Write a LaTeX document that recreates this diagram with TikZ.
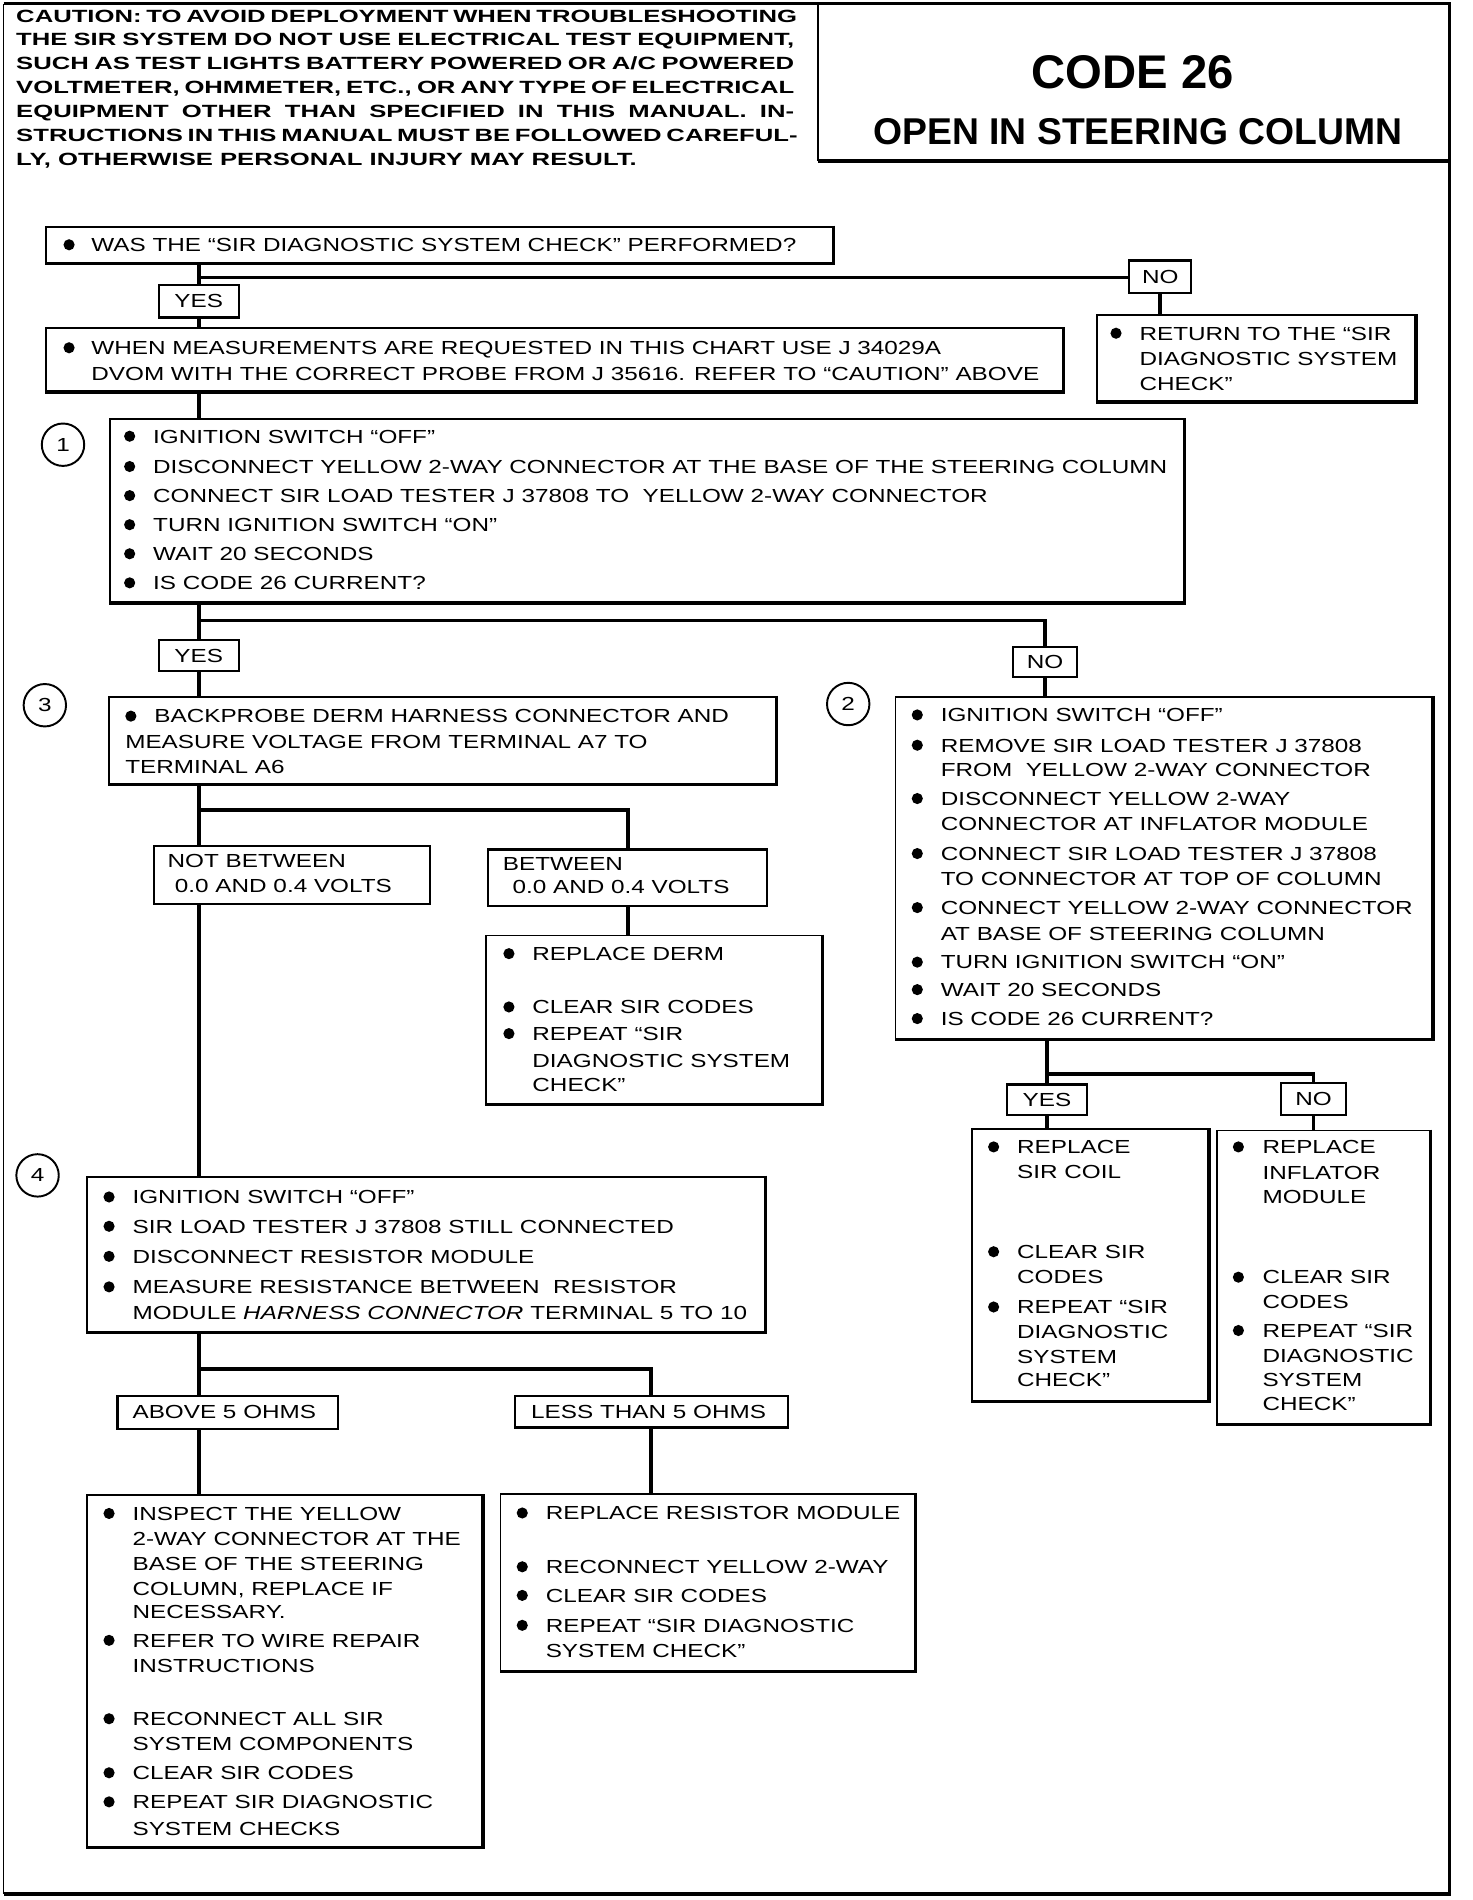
\documentclass[tikz,border=0pt]{standalone}
\usepackage{fontspec}
\usepackage{graphicx}
\usetikzlibrary{fit}
\newfontfamily\bfam[FakeStretch=1.285]{Liberation Sans}
\newfontfamily\cfam[FakeStretch=1.45]{Liberation Sans}
\newfontfamily\tfam{Liberation Sans}
\newcommand\bodyf{\bfam\fontsize{7.8pt}{9.4pt}\selectfont}
\newcommand\cautf{\cfam\bfseries\fontsize{7.3pt}{9pt}\selectfont}
\def\capoff{5.6}
\def\ccapoff{5.2}
\tikzset{
 tx/.style={anchor=base west, inner sep=0pt, font=\bodyf},
 ltx/.style={anchor=center, inner sep=0pt, font=\bodyf},
 ctx/.style={anchor=base west, inner sep=0pt, font=\cautf},
 bul/.style={circle, fill=black, inner sep=0pt, minimum size=4.6pt},
 bx/.style={draw, line width=0.75pt, inner sep=0pt, fill=white},
 lab/.style={draw, line width=0.9pt, inner sep=0pt, fill=white},
 conn/.style={line width=1.5pt},
 thk/.style={line width=1.3pt},
 num/.style={circle, draw, line width=0.8pt, minimum size=17.5pt, inner sep=0pt, font=\bodyf},
 frame/.style={line width=1.4pt},
}
% bullet line: name, bullet x, text x, centre y, text
\newcommand\bl[5]{\node[bul] (#1b) at (#2,#4) {}; \node[tx] (#1) at (#3,#4+\capoff) {#5};}
% continuation line: name, text x, centre y, text
\newcommand\cl[4]{\node[tx] (#1) at (#2,#3+\capoff) {#4};}
% box with heavier right and bottom edges
\newcommand\mkbox[3]{\node[bx, fit={#2 #3}] (#1) {}; \draw[thk] (#1.north east) -- (#1.south east) -- (#1.south west);}
% label box with centred text: name, corner, corner, text
\newcommand\mklab[4]{\node[lab, fit={#2 #3}] (#1) {}; \node[ltx] (#1t) at (#1.center) {#4};}
\begin{document}
\begin{tikzpicture}[x=0.5pt,y=-0.5pt]
\fill[white] (0,0) rectangle (1215,1568);
\useasboundingbox (0,0) rectangle (1215,1568);

% ---------- frame and header ----------
\draw[line width=0.7pt] (3,3) -- (3,1563);
\draw[frame] (3,3) -- (1196,3) -- (1196,1563) -- (3,1563);
\draw[line width=0.8pt] (675,3) -- (675,133);
\draw[frame] (675,133) -- (1196,133);

\node[ctx] (c1) at (13,13+\ccapoff) {\makebox[321pt][s]{CAUTION: TO AVOID DEPLOYMENT WHEN TROUBLESHOOTING}};
\node[ctx] (c2) at (13,32.7+\ccapoff) {\makebox[321pt][s]{THE SIR SYSTEM DO NOT USE ELECTRICAL TEST EQUIPMENT,}};
\node[ctx] (c3) at (13,52.3+\ccapoff) {\makebox[321pt][s]{SUCH AS TEST LIGHTS BATTERY POWERED OR A/C POWERED}};
\node[ctx] (c4) at (13,72+\ccapoff) {\makebox[321pt][s]{VOLTMETER, OHMMETER, ETC., OR ANY TYPE OF ELECTRICAL}};
\node[ctx] (c5) at (13,91.7+\ccapoff) {\makebox[321pt][s]{EQUIPMENT OTHER THAN SPECIFIED IN THIS MANUAL. IN-}};
\node[ctx] (c6) at (13,111.3+\ccapoff) {\makebox[321pt][s]{STRUCTIONS IN THIS MANUAL MUST BE FOLLOWED CAREFUL-}};
\node[ctx] (c7) at (13,131+\ccapoff) {LY, OTHERWISE PERSONAL INJURY MAY RESULT.};

\node[inner sep=0pt, font=\tfam\bfseries\fontsize{19.5pt}{21pt}\selectfont] (code) at (935,60) {CODE 26};
\node[inner sep=0pt, font=\tfam\bfseries\fontsize{15.4pt}{17pt}\selectfont] (title) at (939,109) {OPEN IN STEERING COLUMN};

% ---------- boxes ----------
\mkbox{A}{(38,187)}{(687,217)}
\bl{a1}{57}{75}{202}{WAS THE “SIR DIAGNOSTIC SYSTEM CHECK” PERFORMED?}

\mklab{no1}{(932,215)}{(983,242)}{NO}
\mklab{yes1}{(131,235)}{(197,262)}{YES}

\mkbox{B}{(38,271)}{(877,323)}
\bl{b1}{57}{75}{287}{WHEN MEASUREMENTS ARE REQUESTED IN THIS CHART USE J 34029A}
\cl{b2}{75}{308}{DVOM WITH THE CORRECT PROBE FROM J 35616. REFER TO “CAUTION” ABOVE}

\mkbox{R}{(905,260)}{(1168,331)}
\bl{r1}{921}{940}{275}{RETURN TO THE “SIR}
\cl{r2}{940}{296}{DIAGNOSTIC SYSTEM}
\cl{r3}{940}{317}{CHECK”}

\node[num] (n1) at (52,367) {1};
\mkbox{S1}{(91,346)}{(977,497)}
\bl{s1a}{107}{126}{360}{IGNITION SWITCH “OFF”}
\bl{s1b}{107}{126}{385}{DISCONNECT YELLOW 2-WAY CONNECTOR AT THE BASE OF THE STEERING COLUMN}
\bl{s1c}{107}{126}{409}{CONNECT SIR LOAD TESTER J 37808 TO~ YELLOW 2-WAY CONNECTOR}
\bl{s1d}{107}{126}{433}{TURN IGNITION SWITCH “ON”}
\bl{s1e}{107}{126}{457}{WAIT 20 SECONDS}
\bl{s1f}{107}{126}{481}{IS CODE 26 CURRENT?}

\mklab{yes2}{(131,528)}{(197,554)}{YES}
\mklab{no2}{(836,534)}{(889,559)}{NO}

\node[num] (n3) at (37,582) {3};
\mkbox{S3}{(90,575)}{(640,647)}
\bl{s3a}{108}{127}{591}{BACKPROBE DERM HARNESS CONNECTOR AND}
\cl{s3b}{103}{612}{MEASURE VOLTAGE FROM TERMINAL A7 TO}
\cl{s3c}{103}{633}{TERMINAL A6}

\node[num] (n2) at (700,581) {2};
\mkbox{S2}{(739,575)}{(1182,857)}
\bl{s2a}{757}{776}{590}{IGNITION SWITCH “OFF”}
\bl{s2b}{757}{776}{615}{REMOVE SIR LOAD TESTER J 37808}
\cl{s2c}{776}{635.6}{FROM~ YELLOW 2-WAY CONNECTOR}
\bl{s2d}{757}{776}{659}{DISCONNECT YELLOW 2-WAY}
\cl{s2e}{776}{680}{CONNECTOR AT INFLATOR MODULE}
\bl{s2f}{757}{776}{704.4}{CONNECT SIR LOAD TESTER J 37808}
\cl{s2g}{776}{725}{TO CONNECTOR AT TOP OF COLUMN}
\bl{s2h}{757}{776}{749}{CONNECT YELLOW 2-WAY CONNECTOR}
\cl{s2i}{776}{770.4}{AT BASE OF STEERING COLUMN}
\bl{s2j}{757}{776}{794}{TURN IGNITION SWITCH “ON”}
\bl{s2k}{757}{776}{816.7}{WAIT 20 SECONDS}
\bl{s2l}{757}{776}{840.6}{IS CODE 26 CURRENT?}

\node[lab, fit={(127,698) (355,746)}] (nb) {};
\cl{nb1}{138}{710}{NOT BETWEEN}
\cl{nb2}{144}{730.6}{0.0 AND 0.4 VOLTS}
\node[lab, fit={(403,701) (633,748)}] (bt) {};
\cl{bt1}{414.6}{712.7}{BETWEEN}
\cl{bt2}{422.6}{732}{0.0 AND 0.4 VOLTS}

\mkbox{D}{(401,772)}{(678,911)}
\bl{d1}{420}{439}{787}{REPLACE DERM}
\bl{d2}{420}{439}{831}{CLEAR SIR CODES}
\bl{d3}{420}{439}{853}{REPEAT “SIR}
\cl{d4}{439}{875}{DIAGNOSTIC SYSTEM}
\cl{d5}{439}{895}{CHECK”}

\mklab{yes3}{(831,895)}{(897,920)}{YES}
\mklab{no3}{(1057,894)}{(1111,920)}{NO}

\mkbox{E}{(802,932)}{(997,1156)}
\bl{e1}{820}{839}{946.5}{REPLACE}
\cl{e2}{839}{967}{SIR COIL}
\bl{e3}{820}{839}{1033}{CLEAR SIR}
\cl{e4}{839}{1054}{CODES}
\bl{e5}{820}{839}{1078.6}{REPEAT “SIR}
\cl{e6}{839}{1099}{DIAGNOSTIC}
\cl{e7}{839}{1120}{SYSTEM}
\cl{e8}{839}{1139}{CHECK”}

\mkbox{F}{(1004,933)}{(1180,1175)}
\bl{f1}{1022}{1041.5}{946.5}{REPLACE}
\cl{f2}{1041.5}{968}{INFLATOR}
\cl{f3}{1041.5}{988}{MODULE}
\bl{f4}{1022}{1041.5}{1054}{CLEAR SIR}
\cl{f5}{1041.5}{1074}{CODES}
\bl{f6}{1022}{1041.5}{1098}{REPEAT “SIR}
\cl{f7}{1041.5}{1119}{DIAGNOSTIC}
\cl{f8}{1041.5}{1139}{SYSTEM}
\cl{f9}{1041.5}{1158.5}{CHECK”}

\node[num] (n4) at (31,970) {4};
\mkbox{S4}{(72,971)}{(631,1099)}
\bl{s4a}{90}{109}{987.8}{IGNITION SWITCH “OFF”}
\bl{s4b}{90}{109}{1012}{SIR LOAD TESTER J 37808 STILL CONNECTED}
\bl{s4c}{90}{109}{1036.8}{DISCONNECT RESISTOR MODULE}
\bl{s4d}{90}{109}{1062}{MEASURE RESISTANCE BETWEEN~ RESISTOR}
\cl{s4e}{109}{1083.5}{MODULE \textit{HARNESS CONNECTOR} TERMINAL 5 TO 10}

\node[lab, fit={(97,1152) (279,1179)}] (ab) {};
\cl{ab1}{109}{1165}{ABOVE 5 OHMS}
\node[lab, fit={(425,1152) (650,1178)}] (ls) {};
\cl{ls1}{438}{1165}{LESS THAN 5 OHMS}

\mkbox{G}{(72,1234)}{(398,1524)}
\bl{g1}{90}{109}{1249}{INSPECT THE YELLOW}
\cl{g2}{109}{1270}{2-WAY CONNECTOR AT THE}
\cl{g3}{109}{1290.4}{BASE OF THE STEERING}
\cl{g4}{109}{1311}{COLUMN, REPLACE IF}
\cl{g5}{109}{1330.3}{NECESSARY.}
\bl{g6}{90}{109}{1353.7}{REFER TO WIRE REPAIR}
\cl{g7}{109}{1374.3}{INSTRUCTIONS}
\bl{g8}{90}{109}{1418.4}{RECONNECT ALL SIR}
\cl{g9}{109}{1439}{SYSTEM COMPONENTS}
\bl{g10}{90}{109}{1463}{CLEAR SIR CODES}
\bl{g11}{90}{109}{1487}{REPEAT SIR DIAGNOSTIC}
\cl{g12}{109}{1509}{SYSTEM CHECKS}

\mkbox{H}{(413,1233)}{(755,1379)}
\bl{h1}{431}{450}{1248.6}{REPLACE RESISTOR MODULE}
\bl{h2}{431}{450}{1293}{RECONNECT YELLOW 2-WAY}
\bl{h3}{431}{450}{1316.6}{CLEAR SIR CODES}
\bl{h4}{431}{450}{1341.3}{REPEAT “SIR DIAGNOSTIC}
\cl{h5}{450}{1362.5}{SYSTEM CHECK”}

% ---------- connectors ----------
\coordinate (sp) at (164,0);
\coordinate (j1) at (164,229);
\coordinate (j2) at (164,512);
\coordinate (j3) at (164,668.6);
\coordinate (j4) at (864,886.5);
\coordinate (j5) at (164,1130);

\draw[conn] (A.south -| sp) -- (yes1.north);
\draw[conn] (j1) -- (j1 -| no1.west);
\draw[conn] (no1.south) -- (no1.south |- R.north);
\draw[conn] (yes1.south) -- (B.north -| sp);
\draw[conn] (B.south -| sp) -- (S1.north -| sp);

\draw[conn] (S1.south -| sp) -- (yes2.north);
\draw[conn] (j2) -- (j2 -| no2.north) -- (no2.north);
\draw[conn] (yes2.south) -- (S3.north -| sp);
\draw[conn] (no2.south) -- (no2.south |- S2.north);

\draw[conn] (S3.south -| sp) -- (nb.north -| sp);
\draw[conn] (j3) -- (j3 -| bt.north) -- (bt.north);
\draw[conn] (bt.south) -- (bt.south |- D.north);
\draw[conn] (nb.south -| sp) -- (S4.north -| sp);

\draw[conn] (S2.south -| j4) -- (yes3.north -| j4);
\draw[conn] (j4) -- (j4 -| no3.north) -- (no3.north);
\draw[conn] (yes3.south -| j4) -- (E.north -| j4);
\draw[conn] (no3.south) -- (no3.south |- F.north);

\draw[conn] (S4.south -| sp) -- (ab.north -| sp);
\draw[conn] (j5) -- (j5 -| ls.north) -- (ls.north);
\draw[conn] (ab.south -| sp) -- (G.north -| sp);
\draw[conn] (ls.south) -- (ls.south |- H.north);
\end{tikzpicture}
\end{document}
